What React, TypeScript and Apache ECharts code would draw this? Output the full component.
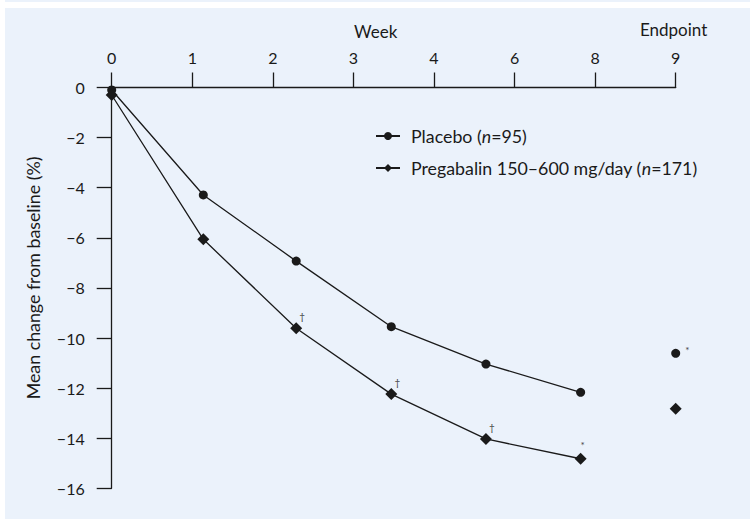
import React, { useEffect, useRef } from "react";
import * as echarts from "echarts";

const tickLabels = ["0", "1", "2", "3", "4", "6", "8", "9"];
const xPositions = [0, 1.137, 2.29, 3.47, 4.645, 5.82];
const endpointX = 7;
const placeboValues = [-0.1, -4.29, -6.93, -9.55, -11.04, -12.17];
const pregabalinValues = [-0.3, -6.06, -9.61, -12.24, -14.03, -14.82];
const placeboEndpoint = -10.61;
const pregabalinEndpoint = -12.82;
const pregabalinMarks = ["", "", "†", "†", "†", "*"];
const placeboEndpointMark = "*";
const legendNames = ["Placebo", "Pregabalin"];

const FONT = "Lato";
const BG = "#ebf2fb";
const INK = "#1a1a1a";

export default function App() {
  const ref = useRef<HTMLDivElement>(null);
  useEffect(() => {
    document.body.style.margin = "0";
    const chart = echarts.init(ref.current!, undefined, { renderer: "svg" });
    const markLabel = (m: string, off: number[]) =>
      m
        ? {
            show: true,
            formatter: m,
            position: "top",
            offset: off,
            color: "#444",
            fontSize: 10,
            fontFamily: FONT,
          }
        : { show: false };
    const option: any = {
      animation: false,
      backgroundColor: "transparent",
      textStyle: { fontFamily: FONT },
      grid: { left: 111.7, right: 74.3, top: 87.5, bottom: 30.7, containLabel: false },
      legend: {
        data: legendNames,
        orient: "vertical",
        left: 375,
        top: 127,
        padding: 0,
        itemWidth: 24,
        itemHeight: 10,
        itemGap: 14,
        formatter: (n: string) =>
          n === "Placebo" ? "Placebo ({i|n}=95)" : "Pregabalin 150–600 mg/day ({i|n}=171)",
        textStyle: {
          fontFamily: FONT,
          fontSize: 17.8,
          color: INK,
          padding: [0, 0, 0, 6],
          rich: {
            i: { fontStyle: "italic", fontFamily: FONT, fontSize: 17.8, color: INK },
          },
        },
      },
      xAxis: {
        type: "value",
        position: "top",
        min: 0,
        max: 7,
        interval: 1,
        name: "Week",
        nameLocation: "middle",
        nameGap: 48,
        nameTextStyle: { fontFamily: FONT, fontSize: 17, color: INK, padding: [0, 36, 0, 0] },
        axisLine: { onZero: false, lineStyle: { color: INK, width: 1.3 } },
        axisTick: { length: 15, lineStyle: { color: INK, width: 1.3 } },
        axisLabel: {
          margin: 22,
          fontFamily: FONT,
          fontSize: 16,
          color: INK,
          formatter: (v: number) => tickLabels[Math.round(v)] ?? "",
        },
        splitLine: { show: false },
      },
      yAxis: {
        type: "value",
        min: -16,
        max: 0,
        interval: 2,
        name: "Mean change from baseline (%)",
        nameLocation: "middle",
        nameGap: 70,
        nameTextStyle: { fontFamily: FONT, fontSize: 17.8, color: INK, padding: [0, 0, 0, 20] },
        axisLine: { onZero: false, lineStyle: { color: INK, width: 1.3 } },
        axisTick: { length: 15, lineStyle: { color: INK, width: 1.3 } },
        axisLabel: {
          margin: 27,
          fontFamily: FONT,
          fontSize: 16,
          color: INK,
          formatter: (v: number) => (v < 0 ? "\u2212" + Math.abs(v) : String(v)),
        },
        splitLine: { show: false },
      },
      series: [
        {
          name: "Placebo",
          type: "line",
          symbol: "circle",
          symbolSize: 9,
          color: INK,
          lineStyle: { color: INK, width: 1.3 },
          itemStyle: { color: INK, opacity: 1 },
          data: xPositions.map((x, i) => [x, placeboValues[i]]),
          z: 3,
        },
        {
          name: "Pregabalin",
          type: "line",
          symbol: "diamond",
          symbolSize: 12,
          color: INK,
          lineStyle: { color: INK, width: 1.3 },
          itemStyle: { color: INK, opacity: 1 },
          data: xPositions.map((x, i) => ({
            value: [x, pregabalinValues[i]],
            label: markLabel(pregabalinMarks[i], pregabalinMarks[i] === "*" ? [2, 2] : [6, 4]),
          })),
          z: 3,
        },
        {
          name: "Placebo endpoint",
          type: "scatter",
          symbol: "circle",
          symbolSize: 9,
          itemStyle: { color: INK, opacity: 1 },
          clip: false,
          data: [
            {
              value: [endpointX, placeboEndpoint],
              label: {
                show: true,
                formatter: placeboEndpointMark,
                position: "right",
                offset: [0, -3],
                color: "#444",
                fontSize: 10,
                fontFamily: FONT,
              },
            },
          ],
        },
        {
          name: "Pregabalin endpoint",
          type: "scatter",
          symbol: "diamond",
          symbolSize: 12,
          itemStyle: { color: INK, opacity: 1 },
          clip: false,
          data: [[endpointX, pregabalinEndpoint]],
        },
      ],
      graphic: [
        {
          type: "text",
          left: 640,
          top: 21,
          style: { text: "Endpoint", fontFamily: FONT, fontSize: 17, fill: INK },
        },
      ],
    };
    chart.setOption(option);
    return () => chart.dispose();
  }, []);
  return (
    <div style={{ position: "absolute", left: 0, top: 0, width: 750, height: 519, background: "#fff", overflow: "hidden" }}>
      <div style={{ position: "absolute", left: 5, top: 0, width: 745, height: 2, background: BG }} />
      <div style={{ position: "absolute", left: 5, top: 8, width: 745, height: 511, background: BG }} />
      <div ref={ref} style={{ position: "absolute", left: 0, top: 0, width: 750, height: 519 }} />
    </div>
  );
}
